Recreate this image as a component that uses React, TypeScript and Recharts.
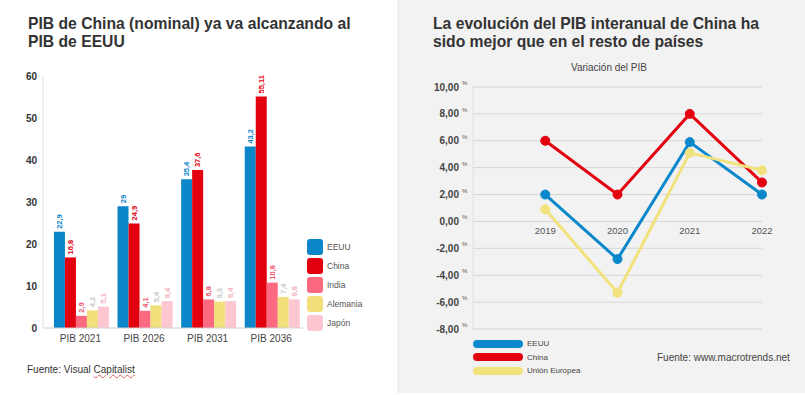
import React from "react"
import {
  BarChart, Bar, LineChart, Line, XAxis, YAxis, CartesianGrid, LabelList,
} from "recharts"

// PIB nominal (billones USD)
const categories = ["PIB 2021", "PIB 2026", "PIB 2031", "PIB 2036"]
const eeuu = [22.9, 29, 35.4, 43.2]
const china = [16.8, 24.9, 37.6, 55.11]
const india = [2.9, 4.1, 6.8, 10.8]
const alemania = [4.2, 5.4, 6.3, 7.4]
const japon = [5.1, 6.4, 6.4, 6.8]
const barTicks = [0, 10, 20, 30, 40, 50, 60]

// Variación del PIB (%)
const years = [2019, 2020, 2021, 2022]
const eeuuGrowth = [2.0, -2.8, 5.9, 2.0]
const chinaGrowth = [6.0, 2.0, 8.0, 2.9]
const ueGrowth = [0.9, -5.3, 5.1, 3.8]
const growthTicks = [-8, -6, -4, -2, 0, 2, 4, 6, 8, 10]

const FONT = "'Liberation Sans', Arial, sans-serif"

const barSeries = [
  { key: "eeuu", name: "EEUU", fill: "#0b86c8", label: "#0b86c8" },
  { key: "china", name: "China", fill: "#e2000f", label: "#e2000f" },
  { key: "india", name: "India", fill: "#fb6a80", label: "#f0566f" },
  { key: "alemania", name: "Alemania", fill: "#f2e07c", label: "#c9c9c9" },
  { key: "japon", name: "Japón", fill: "#fdc7d2", label: "#f5b0c0" },
]

const barData = categories.map((c, i) => ({
  name: c,
  eeuu: eeuu[i],
  china: china[i],
  india: india[i],
  alemania: alemania[i],
  japon: japon[i],
}))

const lineSeries = [
  { key: "eeuu", name: "EEUU", color: "#0a88cb" },
  { key: "china", name: "China", color: "#e3000f" },
  { key: "ue", name: "Unión Europea", color: "#f2e27c" },
]

const lineData = years.map((y, i) => ({
  year: y,
  eeuu: eeuuGrowth[i],
  china: chinaGrowth[i],
  ue: ueGrowth[i],
}))

const fmt = (v: number) => String(v).replace(".", ",")

function BarValue(props: any) {
  const { x, y, width, value, color } = props
  const cx = Number(x) + Number(width) / 2
  const ty = Number(y) - 3
  return (
    <text
      x={cx}
      y={ty}
      transform={`rotate(-90 ${cx} ${ty})`}
      dy="0.35em"
      textAnchor="start"
      fontSize={7.5}
      fontWeight="bold"
      fill={color}
      fontFamily={FONT}
    >
      {fmt(value)}
    </text>
  )
}

// line chart geometry
const LC_W = 408
const LC_H = 393
const LC_TOP = 87
const LC_BOTTOM = 329
const yMin = -8
const yMax = 10
const zeroY = LC_TOP + ((yMax - 0) / (yMax - yMin)) * (LC_BOTTOM - LC_TOP)

function YearTick(props: any) {
  const { x, payload } = props
  return (
    <text x={x} y={zeroY + 13} textAnchor="middle" fontSize={9.5} fill="#555" fontFamily={FONT}>
      {payload.value}
    </text>
  )
}

function PctTick(props: any) {
  const { x, y, payload } = props
  const v = Number(payload.value).toFixed(2).replace(".", ",")
  return (
    <g>
      <text x={x - 14} y={y} dy="0.35em" textAnchor="end" fontSize={10} fontWeight="bold" fill="#444" fontFamily={FONT}>
        {v}
      </text>
      <text x={x - 11} y={y - 2} textAnchor="start" fontSize={6} fill="#555" fontFamily={FONT}>
        %
      </text>
    </g>
  )
}

export default function App() {
  return (
    <div style={{ position: "absolute", left: 0, top: 0, width: 805, height: 395, background: "#fff", fontFamily: FONT, overflow: "hidden" }}>
      {/* left panel */}
      <div style={{ position: "absolute", left: 0, top: 0, width: 397, height: 395 }}>
        <div style={{ position: "absolute", left: 28, top: 15, fontSize: 15.7, fontWeight: "bold", color: "#333", lineHeight: "18px" }}>
          PIB de China (nominal) ya va alcanzando al<br />PIB de EEUU
        </div>
        <BarChart
          width={397}
          height={395}
          data={barData}
          margin={{ top: 76, right: 94, bottom: 37, left: 0 }}
          barCategoryGap="8.4%"
          barGap={0}
        >
          <XAxis
            dataKey="name"
            axisLine={{ stroke: "#cfcfcf" }}
            tickLine={false}
            tickSize={0}
            tickMargin={7}
            height={30}
            padding={{ left: 5.6, right: 0 }}
            tick={{ fontSize: 10, fill: "#444", fontFamily: FONT }}
          />
          <YAxis
            width={43}
            domain={[0, 60]}
            ticks={barTicks}
            axisLine={{ stroke: "#e2e2e2" }}
            tickLine={false}
            tickSize={0}
            tickMargin={6}
            tick={{ fontSize: 10, fontWeight: "bold", fill: "#333", fontFamily: FONT }}
          />
          {barSeries.map((s) => (
            <Bar key={s.key} dataKey={s.key} name={s.name} fill={s.fill} isAnimationActive={false}>
              <LabelList dataKey={s.key} content={(p: any) => <BarValue {...p} color={s.label} />} />
            </Bar>
          ))}
        </BarChart>
        <div style={{ position: "absolute", left: 307, top: 237 }}>
          {barSeries.map((s) => (
            <div key={s.key} style={{ display: "flex", alignItems: "center", height: 19 }}>
              <div style={{ width: 16, height: 16, borderRadius: 3, background: s.fill }} />
              <span style={{ marginLeft: 4, fontSize: 8.5, color: "#555" }}>{s.name}</span>
            </div>
          ))}
        </div>
        <div style={{ position: "absolute", left: 27, top: 364, fontSize: 10, color: "#333" }}>
          Fuente: Visual{" "}
          <span style={{ textDecoration: "underline wavy #e06060", textDecorationThickness: 1 }}>Capitalist</span>
        </div>
      </div>

      {/* right panel */}
      <div style={{ position: "absolute", left: 397, top: 0, width: LC_W, height: LC_H, background: "#f2f2f2" }}>
        <div style={{ position: "absolute", left: 36, top: 15, fontSize: 15.7, fontWeight: "bold", color: "#333", lineHeight: "18px" }}>
          La evolución del PIB interanual de China ha<br />sido mejor que en el resto de países
        </div>
        <div style={{ position: "absolute", left: 112, width: 200, top: 62, textAlign: "center", fontSize: 10, color: "#444" }}>
          Variación del PIB
        </div>
        <LineChart
          width={LC_W}
          height={LC_H}
          data={lineData}
          margin={{ top: LC_TOP, right: 43, bottom: LC_H - LC_BOTTOM - 1, left: 0 }}
          style={{ position: "absolute", left: 0, top: 0 }}
        >
          <CartesianGrid vertical={false} stroke="#d6d6d6" />
          <XAxis
            dataKey="year"
            type="number"
            domain={[2018, 2022]}
            ticks={years}
            height={1}
            axisLine={false}
            tickLine={false}
            tick={<YearTick />}
          />
          <YAxis
            width={76}
            domain={[yMin, yMax]}
            ticks={growthTicks}
            axisLine={{ stroke: "#e0e0e0" }}
            tickLine={false}
            tickSize={0}
            tickMargin={0}
            tick={<PctTick />}
          />
          {lineSeries.map((s) => (
            <Line
              key={s.key}
              dataKey={s.key}
              name={s.name}
              stroke={s.color}
              strokeWidth={3}
              dot={{ r: 4.5, fill: s.color, stroke: s.color, strokeWidth: 1 }}
              isAnimationActive={false}
            />
          ))}
        </LineChart>
        <div style={{ position: "absolute", left: 76, top: 337 }}>
          {lineSeries.map((s) => (
            <div key={s.key} style={{ display: "flex", alignItems: "center", height: 13.5 }}>
              <div style={{ width: 50, height: 8, borderRadius: 4, background: s.color }} />
              <span style={{ marginLeft: 4, fontSize: 8, color: "#444" }}>{s.name}</span>
            </div>
          ))}
        </div>
        <div style={{ position: "absolute", left: 260, top: 352, fontSize: 10, color: "#444" }}>
          Fuente: www.macrotrends.net
        </div>
      </div>
    </div>
  )
}
